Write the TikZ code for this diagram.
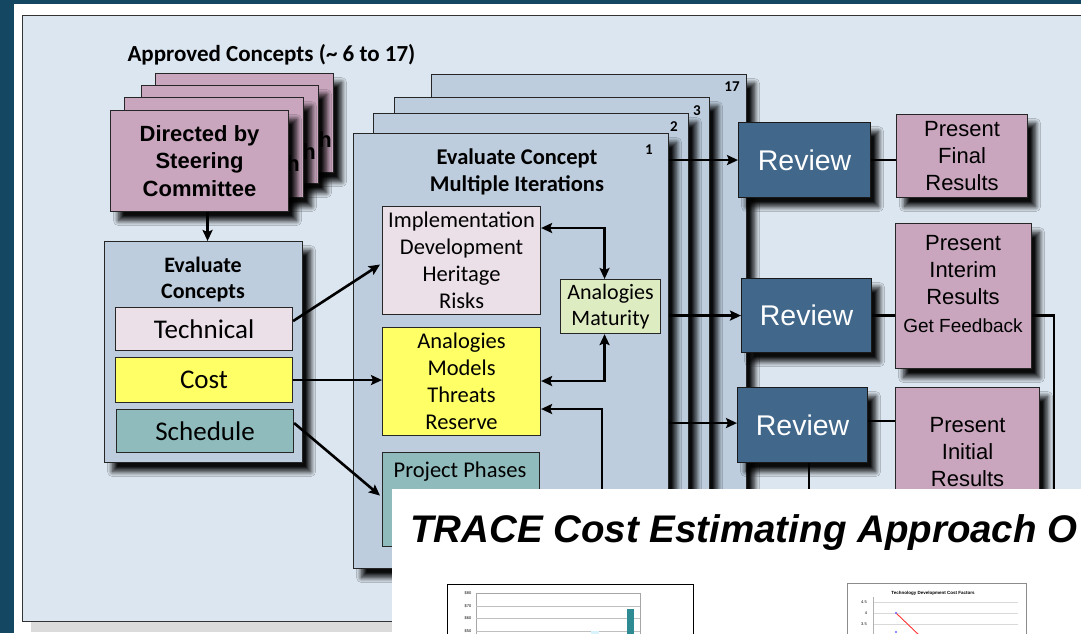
\documentclass[tikz,border=0pt]{standalone}
\usepackage{fontspec}
\setmainfont{Carlito}
\newfontfamily\arialf{Liberation Sans}
\usetikzlibrary{shadows.blur,arrows.meta,calc}
\definecolor{bgdark}{HTML}{144762}
\definecolor{panel}{HTML}{DCE6F0}
\definecolor{cardblue}{HTML}{BDCDDE}
\definecolor{pinkc}{HTML}{C9A6BE}
\definecolor{palepink}{HTML}{EBE0E8}
\definecolor{yelbox}{HTML}{FFFF66}
\definecolor{tealbox}{HTML}{8FBBBC}
\definecolor{palegreen}{HTML}{DEECC1}
\definecolor{revblue}{HTML}{41678A}
\definecolor{barteal}{HTML}{2E8A93}
\begin{document}
\begin{tikzpicture}[x=1pt,y=-1pt,
  bx/.style={draw=black!85, line width=1.1pt, inner sep=0pt, anchor=north west, align=center},
  shad/.style={blur shadow={shadow xshift=8pt, shadow yshift=-9pt, shadow blur radius=5pt, shadow opacity=95, shadow blur steps=10}},
  arr/.style={line width=2.6pt, -{Stealth[length=11pt,width=10pt,inset=2pt]}},
  dbl/.style={line width=2.6pt, {Stealth[length=11pt,width=10pt,inset=2pt]}-{Stealth[length=11pt,width=10pt,inset=2pt]}},
  conn/.style={line width=2.5pt},
  cal/.style={font=\fontsize{22.5}{27}\selectfont, align=center},
  calb/.style={font=\bfseries\fontsize{22.5}{27}\selectfont, align=center},
  ari/.style={font=\arialf\fontsize{22}{27}\selectfont, align=center},
  arib/.style={font=\arialf\bfseries\fontsize{22}{27.5}\selectfont, align=center},
  num/.style={font=\bfseries\fontsize{15}{18}\selectfont},
  tiny/.style={font=\arialf\fontsize{4}{5}\selectfont, inner sep=0pt}
]
\useasboundingbox (0,0) rectangle (1081,633);
% slide background
\fill[bgdark] (0,0) rectangle (1081,633);
\fill[white] (14,4) rectangle (1081,633);
\fill[black!14] (31,621) rectangle (1081,632);
\draw[fill=panel, draw=black!80, line width=0.8pt] (22,15) rectangle (1095,621);

\node[calb, anchor=west, font=\bfseries\fontsize{23}{27}\selectfont] (appr) at (124,55) {Approved Concepts (\textasciitilde{} 6 to 17)};

% pink stack
\node[bx, fill=pinkc, shad, minimum width=178pt, minimum height=99pt] (c4) at (155,73) {};
\node[arib] (h4) at (325,140) {h};
\node[bx, fill=pinkc, shad, minimum width=177pt, minimum height=98pt] (c3) at (141,85) {};
\node[arib] (h3) at (309,152) {h};
\node[bx, fill=pinkc, shad, minimum width=179pt, minimum height=100pt] (c2) at (124,97) {};
\node[arib] (h2) at (293,164) {h};
\node[bx, fill=pinkc, shad, minimum width=178pt, minimum height=101pt, arib] (dir) at (110,110) {Directed by\\Steering\\Committee};

% evaluate concepts
\node[bx, fill=cardblue, shad, minimum width=198pt, minimum height=221pt] (evc) at (104,241) {};
\draw[arr] ($(dir.south)+(8,0)$) coordinate (da) -- (da |- evc.north);
\node[calb, font=\bfseries\fontsize{22}{26}\selectfont] (evct) at (203,280) {Evaluate\\Concepts};
\node[bx, fill=palepink, minimum width=177pt, minimum height=43pt, font=\fontsize{27}{32}\selectfont] (tech) at (115,307) {Technical};
\node[bx, fill=yelbox, minimum width=177pt, minimum height=45pt, font=\fontsize{27}{32}\selectfont] (cost) at (115,357) {Cost};
\node[bx, fill=tealbox, minimum width=177pt, minimum height=43pt, font=\fontsize{27}{32}\selectfont] (sched) at (116,409) {Schedule};

% iteration cards
\node[bx, fill=cardblue, shad, minimum width=315pt, minimum height=440pt] (k17) at (431,74) {};
\node[num] (n17) at (732,87) {17};
\node[bx, fill=cardblue, shad, minimum width=315pt, minimum height=440pt] (k3) at (394,97) {};
\node[num] (n3) at (697,111) {3};
\node[bx, fill=cardblue, shad, minimum width=315pt, minimum height=440pt] (k2) at (373,113) {};
\node[num] (n2) at (674,127) {2};
\node[bx, fill=cardblue, shad, minimum width=315pt, minimum height=435pt] (k1) at (353,133) {};
\node[num] (n1) at (649,150) {1};
\node[calb] (hd) at (517,172) {Evaluate Concept\\Multiple Iterations};

\node[bx, fill=palepink, minimum width=158pt, minimum height=108pt, cal] (impl) at (382,206) {Implementation\\Development\\Heritage\\Risks};
\node[bx, fill=palegreen, minimum width=100pt, minimum height=54pt, cal, font=\fontsize{22}{26}\selectfont] (mat) at (560,279) {Analogies\\Maturity};
\node[bx, fill=yelbox, minimum width=158pt, minimum height=108pt, cal] (yel) at (382,327) {Analogies\\Models\\Threats\\Reserve};
\node[bx, fill=tealbox, minimum width=157pt, minimum height=94pt] (phs) at (382,452) {};
\node[cal] (phst) at (460,472) {Project Phases};

% arrows into the iteration card
\draw[arr] ($(tech.east)+(0,-8)$) -- ($(impl.west)+(-2,4)$);
\draw[arr] (cost.east) -- (cost.east -| yel.west);
\draw[arr] ($(sched.east)+(0,-8)$) -- ($(phs.west)+(-2,-4)$);
\draw[dbl] ($(impl.north east)+(0,22)$) -| ($(mat.north)+(-6,0)$);
\draw[dbl] ($(mat.south)+(-6,0)$) |- ($(yel.north east)+(0,54)$);
\coordinate (fbin) at (602,520);
\draw[arr] (fbin) |- ($(yel.north east)+(0,82)$);

% reviews
\node[bx, fill=revblue, shad, draw=black!90, minimum width=132pt, minimum height=75pt, text=white, font=\arialf\fontsize{28.5}{32}\selectfont] (r1) at (738,122) {Review};
\node[bx, fill=revblue, shad, draw=black!90, minimum width=130pt, minimum height=74pt, text=white, font=\arialf\fontsize{28.5}{32}\selectfont] (r2) at (741,278) {Review};
\node[bx, fill=revblue, shad, draw=black!90, minimum width=130pt, minimum height=75pt, text=white, font=\arialf\fontsize{28.5}{32}\selectfont] (r3) at (737,387) {Review};
\draw[arr] (k1.east |- r1.west) -- (r1.west);
\draw[arr] (k1.east |- r2.west) -- (r2.west);
\draw[arr] ($(k1.east |- r3.west)+(0,-2)$) -- ($(r3.west)+(0,-2)$);

% presents
\node[bx, fill=pinkc, shad, minimum width=131pt, minimum height=83pt, ari] (p1) at (896,114) {Present\\Final\\Results};
\node[bx, fill=pinkc, shad, minimum width=136pt, minimum height=145pt] (p2) at (895,223) {};
\node[ari] (p2t) at (963,284) {Present\\Interim\\Results\\[1pt]{\fontsize{19}{23}\selectfont Get Feedback}};
\node[bx, fill=pinkc, shad, minimum width=144pt, minimum height=128pt, ari] (p3) at (895,387) {Present\\Initial\\Results};

\draw[conn] (r1.east) -- (r1.east -| p1.west);
\draw[conn] (r2.east) -- (r2.east -| p2.west);
\draw[conn] ($(r3.east)+(0,-4)$) -- ($(r3.east -| p3.west)+(0,-4)$);
\coordinate (fbk) at (1054,520);
\draw[conn] (r2.east -| p2.east) -| (fbk);
\coordinate (r3d) at (809,520);
\draw[conn] (r3.south -| r3d) -- (r3d);

% overlay slide
\fill[white] (392,489) rectangle (1095,640);
\node[font=\arialf\bfseries\itshape\fontsize{38.5}{44}\selectfont, anchor=base west, inner sep=0pt] (ttl) at (410,542) {TRACE Cost Estimating Approach O};

% left chart
\draw[black, line width=0.9pt, fill=white] (447,584) rectangle (693,650);
\draw[black!35, line width=0.6pt] (476,593) rectangle (640,650);
\foreach \yy in {606,618,631} \draw[black!25, line width=0.6pt] (476,\yy) -- (640,\yy);
\node[tiny] (l80) at (468,593) {\$80};
\node[tiny] (l70) at (468,606) {\$70};
\node[tiny] (l60) at (468,618) {\$60};
\node[tiny] (l50) at (468,631) {\$50};
\fill[barteal] (627,609) rectangle (634,650);
\fill[cyan!15] (591,631) rectangle (599,650);

% right chart
\draw[black!45, line width=0.9pt, fill=white] (847,583) rectangle (1026,650);
\node[tiny, font=\arialf\bfseries\fontsize{4.5}{5}\selectfont] (ctt) at (933,593) {Technology Development Cost Factors};
\foreach \yy in {602,613,624} \draw[black!15, line width=0.8pt] (873,\yy) -- (1018,\yy);
\draw[black!30, line width=0.5pt] (873,597) -- (873,650);
\node[tiny] (t45) at (864,602) {4.5};
\node[tiny] (t4) at (866,613) {4};
\node[tiny] (t35) at (864,624) {3.5};
\draw[red!80, line width=0.9pt] (896,613) -- (920,636);
\fill[blue!60] (896,613) circle (1.1pt);
\fill[blue!60] (896,632) circle (1.1pt);
\end{tikzpicture}
\end{document}
